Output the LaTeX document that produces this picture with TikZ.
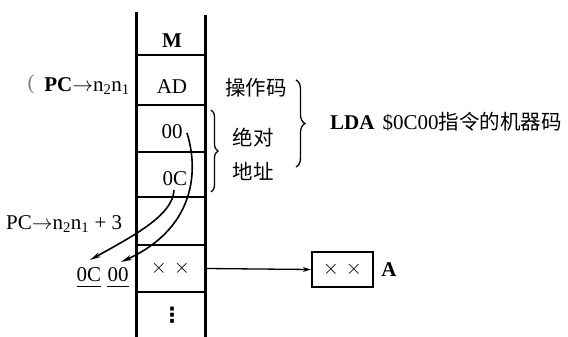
\documentclass[tikz,border=0pt]{standalone}
\usepackage{fontspec}
\setmainfont{Liberation Serif}
\newfontfamily\cjk{Noto Sans CJK SC}
\newfontfamily\sym{DejaVu Sans}
\usetikzlibrary{arrows.meta,decorations.pathreplacing}

\begin{document}
\begin{tikzpicture}[x=1pt,y=-1pt,
 lbl/.style={font=\fontsize{21}{24}\selectfont, inner sep=0pt},
 zh/.style={font=\fontsize{20.5}{24}\selectfont\cjk, inner sep=0pt},
 cell/.style={minimum width=69pt, inner sep=0pt, font=\fontsize{21}{24}\selectfont},
 wall/.style={line width=3pt},
 rowline/.style={line width=2.6pt},
 link/.style={line width=1.6pt, -{Stealth[length=11pt,width=5pt]}},
 feed/.style={line width=1.3pt, -{Stealth[length=8pt,width=5pt]}},
 brc/.style={decorate, decoration={brace, amplitude=7pt}, line width=1.3pt},
 uline/.style={line width=1.2pt}
]
\useasboundingbox (0,0) rectangle (568,337);
% memory column
\draw[wall] (136,12) -- (136,337);
\draw[wall] (205,15) -- (205,337);
\foreach \y in {55,105,152,197,245,292} \draw[rowline] (136,\y) -- (205,\y);
\node[cell, font=\fontsize{21}{24}\selectfont\bfseries] (cM)  at (172,41)  {M};
\node[cell] (cAD) at (172,87)  {AD};
\node[cell] (c00) at (172,132) {00};
\node[cell] (c0C) at (175,179) {0C};
\node[cell, minimum height=47pt] (cxx) at (170.5,268.5) {$\times$\,\,$\times$};
\node[cell, font=\fontsize{21}{24}\selectfont\sym\bfseries] (cdots) at (172,315) {⋮};
% left labels
\node[lbl, text=gray] (paren) at (31,84) {(};
\node[lbl, anchor=east] (pc1) at (130,86) {\textbf{PC}$\rightarrow$n\textsubscript{2}n\textsubscript{1}};
\node[lbl, anchor=west] (pc2) at (6,224) {PC$\rightarrow$n\textsubscript{2}n\textsubscript{1} + 3};
\node[lbl] (l0C) at (89,275) {0C};
\node[lbl] (l00) at (118,275) {00};
\draw[uline] ([yshift=-5pt]l0C.base west) -- ([yshift=-5pt]l0C.base east);
\draw[uline] ([yshift=-5pt]l00.base west) -- ([yshift=-5pt]l00.base east);
% curved transfers
\coordinate (s00) at (187,133);
\coordinate (s0C) at (174,190);
\coordinate (t0C) at (90,260);
\coordinate (t00) at (121,262);
\draw[link] (s00) .. controls (200,175) and (192,230) .. (t00);
\draw[link] (s0C) .. controls (173,215) and (135,235) .. (t0C);
% right labels
\node[zh] (op) at (256,88) {操作码};
\node[zh] (ab1) at (253,138) {绝对};
\node[zh] (ab2) at (253,171) {地址};
\draw[brc] (211,110) -- (211,192);
\draw[brc, decoration={brace, amplitude=9pt}] (296,80) -- (296,167);
\node[lbl, anchor=west] (lda) at (330,122) {\textbf{LDA}\hspace{8pt}\$0C00{\cjk\fontsize{20.5}{24}\selectfont 指令的机器码}};
% register A
\node[draw, line width=2.4pt, minimum width=61pt, minimum height=35pt, inner sep=0pt, font=\fontsize{21}{24}\selectfont] (regA) at (342.5,269.5) {$\times$\,\,$\times$};
\node[lbl, anchor=west, font=\fontsize{21}{24}\selectfont\bfseries] (labA) at ([xshift=7pt]regA.east) {A};
\draw[feed] (cxx.east) -- (regA.west);
\end{tikzpicture}
\end{document}
